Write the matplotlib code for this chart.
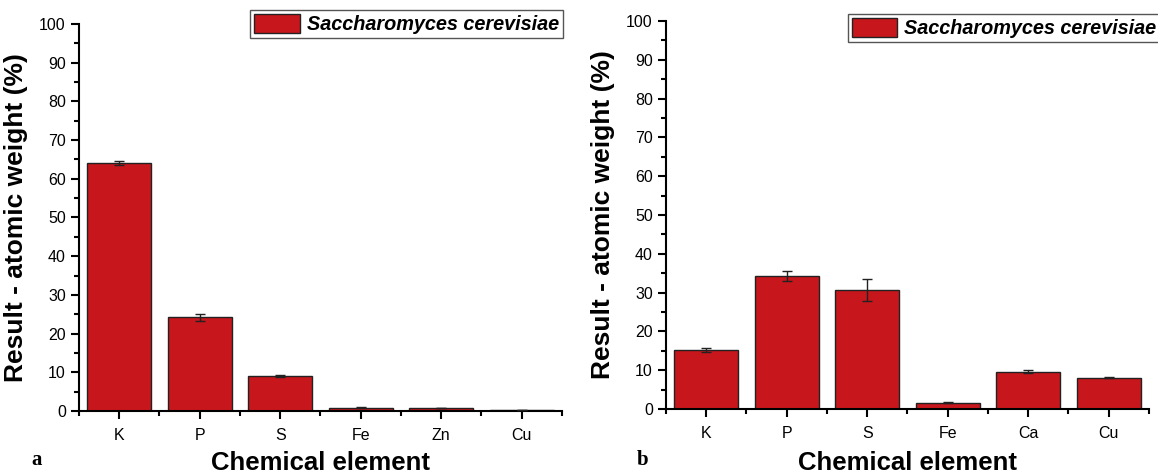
import numpy as np
import matplotlib.pyplot as plt
from matplotlib.ticker import MultipleLocator

plt.rcParams['font.family'] = ['Liberation Sans', 'DejaVu Sans']

# panel a
elements_a = ['K', 'P', 'S', 'Fe', 'Zn', 'Cu']
values_a = [64.0, 24.2, 9.1, 0.9, 0.8, 0.3]
errors_a = [0.5, 0.9, 0.3, 0.15, 0.1, 0.05]

# panel b
elements_b = ['K', 'P', 'S', 'Fe', 'Ca', 'Cu']
values_b = [15.3, 34.3, 30.7, 1.6, 9.6, 8.1]
errors_b = [0.5, 1.2, 2.8, 0.1, 0.4, 0.1]

bar_color = '#c8161d'
legend_label = 'Saccharomyces cerevisiae'

fig = plt.figure(figsize=(11.58, 4.74), dpi=100)
ax_a = fig.add_axes([0.0682, 0.1329, 0.4171, 0.8165])
ax_b = fig.add_axes([0.5751, 0.1371, 0.4171, 0.8186])


def draw_panel(ax, elements, values, errors, letter, letter_x, leg_anchor, xlab_y):
    x = np.arange(1, len(elements) + 1)
    ax.bar(x, values, width=0.8, color=bar_color, edgecolor='#222222',
           linewidth=1.0, label=legend_label, zorder=2)
    ax.errorbar(x, values, yerr=errors, fmt='none', ecolor='#222222',
                elinewidth=1.0, capsize=3.5, capthick=1.0, zorder=3)
    ax.set_xlim(0.5, len(elements) + 0.5)
    ax.set_ylim(0, 100)
    ax.set_xticks(x)
    ax.set_xticklabels(elements)
    ax.xaxis.set_minor_locator(plt.FixedLocator(np.arange(0.5, len(elements) + 1, 1.0)))
    ax.yaxis.set_major_locator(MultipleLocator(10))
    ax.yaxis.set_minor_locator(MultipleLocator(5))
    for s in ['top', 'right']:
        ax.spines[s].set_visible(False)
    for s in ['left', 'bottom']:
        ax.spines[s].set_linewidth(1.5)
    ax.tick_params(which='major', direction='out', length=6, width=1.5,
                   labelsize=11.5)
    ax.tick_params(which='minor', direction='out', length=3.5, width=1.5)
    ax.tick_params(axis='x', pad=6)
    ax.set_ylabel('Result - atomic weight (%)', fontsize=19,
                  fontweight='bold')
    ax.yaxis.set_label_coords(-0.106, 0.5)
    ax.set_xlabel('Chemical element', fontsize=18.5, fontweight='bold')
    ax.xaxis.set_label_coords(0.5, xlab_y)
    leg = fig.legend(handles=ax.containers[:1], labels=[legend_label],
                     loc='upper left', bbox_to_anchor=leg_anchor,
                     bbox_transform=fig.transFigure, frameon=True,
                     fancybox=False, edgecolor='#555555', framealpha=1,
                     borderpad=0.2, handlelength=2.3, handleheight=1.1,
                     handletextpad=0.35, borderaxespad=0,
                     prop={'size': 14.3, 'weight': 'bold', 'style': 'italic'})
    leg.get_frame().set_linewidth(1.0)
    fig.text(letter_x, 0.02, letter, fontsize=15, fontweight='bold',
             family=['Liberation Serif', 'DejaVu Serif'])


draw_panel(ax_a, elements_a, values_a, errors_a, 'a', 0.027, (0.216, 0.979), -0.104)
draw_panel(ax_b, elements_b, values_b, errors_b, 'b', 0.550, (0.732, 0.970), -0.109)

fig.savefig('out.png', dpi=100)
